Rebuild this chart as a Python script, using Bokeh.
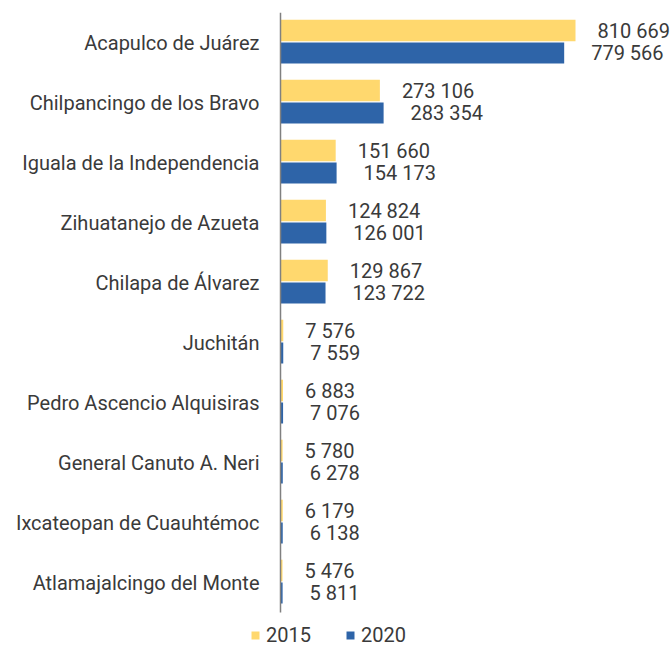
from bokeh.plotting import figure
from bokeh.models import Range1d, ColumnDataSource, Legend, LegendItem, FixedTicker
from bokeh.transform import dodge
from bokeh.core.properties import value
from bokeh.embed import file_html
from bokeh.resources import INLINE

municipios = ["Acapulco de Juárez", "Chilpancingo de los Bravo", "Iguala de la Independencia",
              "Zihuatanejo de Azueta", "Chilapa de Álvarez", "Juchitán", "Pedro Ascencio Alquisiras",
              "General Canuto A. Neri", "Ixcateopan de Cuauhtémoc", "Atlamajalcingo del Monte"]
pob_2015 = [810669, 273106, 151660, 124824, 129867, 7576, 6883, 5780, 6179, 5476]
pob_2020 = [779566, 283354, 154173, 126001, 123722, 7559, 7076, 6278, 6138, 5811]
series = ["2015", "2020"]

YELLOW = "#FFD86E"
BLUE = "#2E64A8"
TXT = "#3A3A3A"
FONT = "Roboto"
FS = "20px"

def fmt(v):
    return f"{v:,}".replace(",", " ")

n = len(municipios)
ypos = [n - 1 - i for i in range(n)]  # first category at top

src = ColumnDataSource(dict(
    y=ypos, v15=pob_2015, v20=pob_2020,
    l15=[fmt(v) for v in pob_2015], l20=[fmt(v) for v in pob_2020],
))

UPX = 2748.0  # data units per pixel on the value axis
p = figure(width=671, height=647, output_backend="svg", toolbar_location=None,
           y_range=Range1d(-0.5 - 35 / 60, n - 0.5), x_range=Range1d(-280 * UPX, 391 * UPX),
           min_border_left=0, min_border_right=0, min_border_top=12, min_border_bottom=0)
p.outline_line_color = None
p.xgrid.visible = False
p.ygrid.visible = False
p.xaxis.visible = False
p.background_fill_color = "white"
p.border_fill_color = "white"

r15 = p.hbar(y=dodge("y", 0.2), right="v15", left=0, height=0.36,
             source=src, fill_color=YELLOW, line_color=None)
r20 = p.hbar(y=dodge("y", -0.175), right="v20", left=0, height=0.35,
             source=src, fill_color=BLUE, line_color=None)

p.text(x="v15", y=dodge("y", 0.2), text="l15", source=src,
       x_offset=22, text_baseline="middle", text_align="left",
       text_font=value(FONT), text_font_size=FS, text_color=TXT)
p.text(x="v20", y=dodge("y", -0.175), text="l20", source=src,
       x_offset=27, text_baseline="middle", text_align="left",
       text_font=value(FONT), text_font_size=FS, text_color=TXT)

ax = p.yaxis[0]
ax.fixed_location = 0
ax.ticker = FixedTicker(ticks=ypos)
ax.major_label_overrides = {y: name for y, name in zip(ypos, municipios)}
ax.bounds = (-0.5, n - 0.5)
ax.axis_line_color = "#808080"
ax.axis_line_width = 1.5
ax.major_tick_line_color = None
ax.minor_tick_line_color = None
ax.major_tick_out = 0
ax.major_tick_in = 0
ax.major_label_standoff = 21
ax.major_label_text_font = FONT
ax.major_label_text_font_size = FS
ax.major_label_text_color = TXT

legend = Legend(items=[LegendItem(label=series[0], renderers=[r15]),
                       LegendItem(label=series[1], renderers=[r20])],
                orientation="horizontal", location=(250, 0),
                glyph_width=10, glyph_height=10, label_standoff=6, spacing=34,
                padding=0, margin=0, border_line_color=None, background_fill_alpha=0,
                label_text_font=FONT, label_text_font_size=FS, label_text_color=TXT)
p.add_layout(legend, "center")

open("out.html", "w").write(file_html(p, INLINE))
